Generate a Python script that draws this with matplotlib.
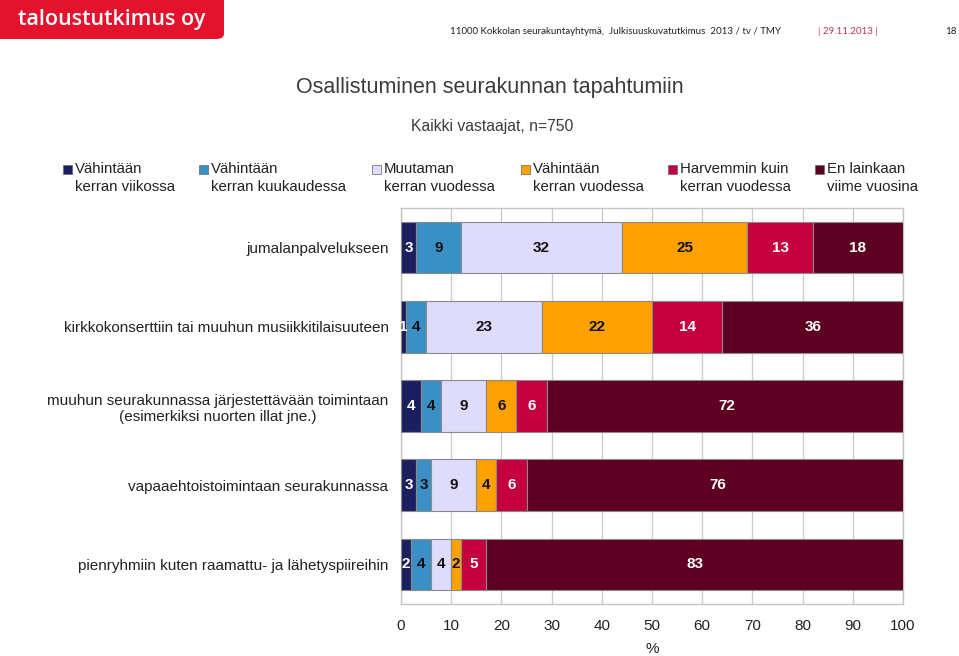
import matplotlib
matplotlib.use("Agg")
import matplotlib.pyplot as plt
from matplotlib.patches import FancyBboxPatch, Rectangle
import numpy as np

# data
categories = [
    "jumalanpalvelukseen",
    "kirkkokonserttiin tai muuhun musiikkitilaisuuteen",
    "muuhun seurakunnassa järjestettävään toimintaan\n(esimerkiksi nuorten illat jne.)",
    "vapaaehtoistoimintaan seurakunnassa",
    "pienryhmiin kuten raamattu- ja lähetyspiireihin",
]
series_names = [
    "Vähintään\nkerran viikossa",
    "Vähintään\nkerran kuukaudessa",
    "Muutaman\nkerran vuodessa",
    "Vähintään\nkerran vuodessa",
    "Harvemmin kuin\nkerran vuodessa",
    "En lainkaan\nviime vuosina",
]
viikossa = [3, 1, 4, 3, 2]
kuukaudessa = [9, 4, 4, 3, 4]
muutaman = [32, 23, 9, 9, 4]
vuodessa = [25, 22, 6, 4, 2]
harvemmin = [13, 14, 6, 6, 5]
ei_lainkaan = [18, 36, 72, 76, 83]
series = [viikossa, kuukaudessa, muutaman, vuodessa, harvemmin, ei_lainkaan]

colors = ["#1b1f5f", "#3a90c4", "#dedcfa", "#ffa100", "#c4003f", "#5e0022"]
text_colors = ["white", "#111111", "#111111", "#111111", "white", "white"]

plt.rcParams["font.family"] = ["Liberation Sans", "DejaVu Sans"]

W, H = 959, 656
fig = plt.figure(figsize=(W / 100, H / 100), dpi=100)

# header
logo = FancyBboxPatch((-20 / W, 1 - 39 / H), 244 / W, 60 / H,
                      boxstyle="round,pad=0,rounding_size=0.008",
                      transform=fig.transFigure, facecolor="#e3132d",
                      edgecolor="none")
fig.patches.append(logo)
fig.text(112 / W, 1 - 19 / H, "taloustutkimus oy", color="white",
         fontsize=15.5, family=["Open Sans", "DejaVu Sans"], fontweight="semibold",
         ha="center", va="center")
fig.text(450 / W, 1 - 31 / H,
         "11000 Kokkolan seurakuntayhtymä,  Julkisuuskuvatutkimus  2013 / tv / TMY",
         fontsize=7, family=["Lato", "DejaVu Sans"], color="#222222", va="center")
fig.text(818 / W, 1 - 31 / H, "| 29.11.2013 |", fontsize=7,
         family=["Lato", "DejaVu Sans"], color="#c0325a", va="center")
fig.text(957 / W, 1 - 31 / H, "18", fontsize=7, family=["Lato", "DejaVu Sans"],
         color="#222222", va="center", ha="right")

# titles
fig.text(490 / W, 1 - 87 / H, "Osallistuminen seurakunnan tapahtumiin",
         fontsize=15.5, color="#3c3c3c", ha="center", va="center")
fig.text(492 / W, 1 - 127 / H, "Kaikki vastaajat, n=750",
         fontsize=11.3, color="#3c3c3c", ha="center", va="center")

# legend (manual, marker at first line)
leg_x = [63, 199, 372, 521, 668, 815]
for x, name, c in zip(leg_x, series_names, colors):
    fig.patches.append(Rectangle((x / W, 1 - 174 / H), 9 / W, 9 / H,
                                 transform=fig.transFigure, facecolor=c,
                                 edgecolor="#666666", linewidth=0.5))
    fig.text((x + 12) / W, 1 - 162 / H, name, fontsize=10.8, color="#222222",
             ha="left", va="top", linespacing=1.35)

# chart
ax = fig.add_axes([401 / W, 1 - 604 / H, 502 / W, 396 / H])
y = np.arange(len(categories))
left = np.zeros(len(categories))
for vals, c, tc in zip(series, colors, text_colors):
    vals = np.array(vals, dtype=float)
    bars = ax.barh(y, vals, left=left, height=0.65, color=c,
                   edgecolor="#8a8a8a", linewidth=0.8, zorder=3)
    for b, v in zip(bars, vals):
        ax.text(b.get_x() + b.get_width() / 2, b.get_y() + b.get_height() / 2,
                f"{int(v)}", ha="center", va="center", fontsize=11,
                fontweight="bold", color=tc, zorder=4)
    left += vals

ax.set_xlim(0, 100)
ax.set_ylim(len(categories) - 0.5, -0.5)
ax.set_xticks(np.arange(0, 101, 10))
ax.set_yticks(y)
ax.set_yticklabels(categories, fontsize=11, color="#222222", multialignment="center")
ax.tick_params(axis="x", labelsize=11, length=0, pad=11, colors="#222222")
ax.tick_params(axis="y", length=0, pad=9)
ax.grid(axis="x", color="#cccccc", linewidth=1, zorder=0)
for s in ax.spines.values():
    s.set_color("#c4c4c4")
    s.set_linewidth(1)
ax.set_xlabel("%", fontsize=11, color="#222222", labelpad=6)

fig.savefig("out.png", dpi=100)
